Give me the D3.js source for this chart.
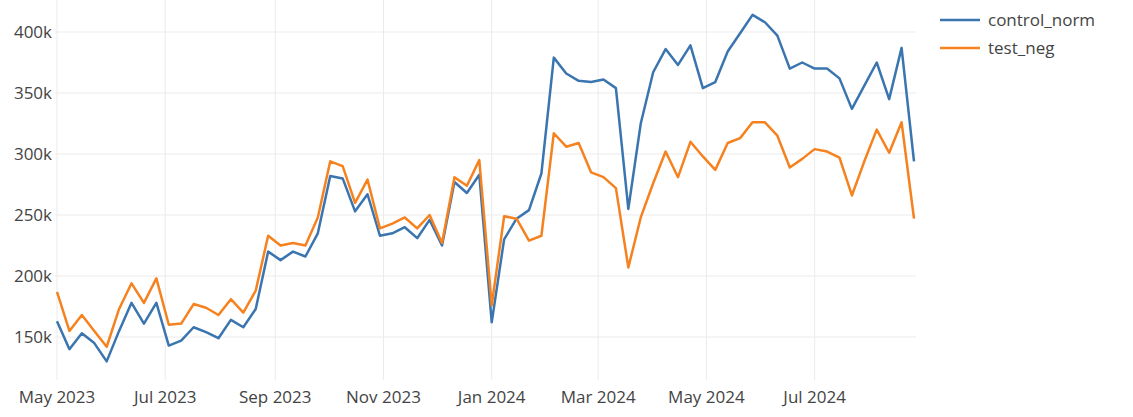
<!DOCTYPE html>
<html><head><meta charset="utf-8">
<script src="https://cdn.jsdelivr.net/npm/d3@7"></script>
<style>body{margin:0;background:#fff}svg{font-family:"Open Sans",sans-serif}</style>
</head><body><svg id="c" width="1133" height="417"></svg>
<script>
const startDate = "2023-05-01";
const seriesNames = ["control_norm","test_neg"];
const colors = ["#3a75b0","#f5821f"];
const controlNorm = [163,140,153,145,130,155,178,161,178,143,147,158,154,149,164,158,173,220,213,220,216,235,282,280,253,267,233,235,240,231,246,225,277,268,283,162,
230,247,254,284,379,366,360,359,361,354,255,325,367,386,373,389,354,359,384,399,414,408,397,370,375,370,370,362,337,356,375,345,387,294];
const testNeg = [187,155,168,155,142,173,194,178,198,160,161,177,174,168,181,170,188,233,225,227,225,248,294,290,260,279,239,243,248,239,250,227,281,274,295,176,
249,247,229,233,317,306,309,285,281,272,207,248,276,302,281,310,298,287,309,313,326,326,315,289,296,304,302,297,266,294,320,301,326,247];
const yTicks = [150,200,250,300,350,400];
const xTicks = ["2023-05-01","2023-07-01","2023-09-01","2023-11-01","2024-01-01","2024-03-01","2024-05-01","2024-07-01"];

const parse = d3.utcParse("%Y-%m-%d");
const d0 = parse(startDate);
const dates = controlNorm.map((_, i) => d3.utcDay.offset(d0, 7 * i));
const svg = d3.select("#c");
const x = d3.scaleUtc().domain([d0, dates[dates.length - 1]]).range([57, 914]);
const y = d3.scaleLinear().domain([150, 400]).range([337, 32]);

const g = svg.append("g");
g.selectAll(".gx").data(xTicks).join("line")
  .attr("x1", d => x(parse(d))).attr("x2", d => x(parse(d)))
  .attr("y1", 0).attr("y2", 380).attr("stroke", "#ebebeb").attr("stroke-width", 1);
g.selectAll(".gy").data(yTicks).join("line")
  .attr("x1", 55).attr("x2", 916).attr("y1", d => y(d)).attr("y2", d => y(d))
  .attr("stroke", "#ebebeb").attr("stroke-width", 1);

g.selectAll(".ty").data(yTicks).join("text")
  .attr("x", 52).attr("y", d => y(d)).attr("dy", "0.35em").attr("text-anchor", "end")
  .attr("font-size", 17).attr("fill", "#444").text(d => d + "k");
const fmt = d3.utcFormat("%b %Y");
g.selectAll(".tx").data(xTicks).join("text")
  .attr("x", d => x(parse(d))).attr("y", 403).attr("text-anchor", "middle")
  .attr("font-size", 17).attr("fill", "#444").text(d => fmt(parse(d)));

const line = d3.line().x((d, i) => x(dates[i])).y(d => y(d));
[controlNorm, testNeg].forEach((s, k) => {
  svg.append("path").datum(s).attr("d", line).attr("fill", "none")
    .attr("stroke", colors[k]).attr("stroke-width", 2.5).attr("stroke-linejoin", "round");
});

const lg = svg.append("g");
seriesNames.forEach((n, k) => {
  const yy = 20 + k * 28;
  lg.append("line").attr("x1", 940).attr("x2", 980).attr("y1", yy).attr("y2", yy)
    .attr("stroke", colors[k]).attr("stroke-width", 2.5);
  lg.append("text").attr("x", 988).attr("y", yy).attr("dy", "0.35em")
    .attr("font-size", 17).attr("fill", "#444").text(n);
});
</script></body></html>
